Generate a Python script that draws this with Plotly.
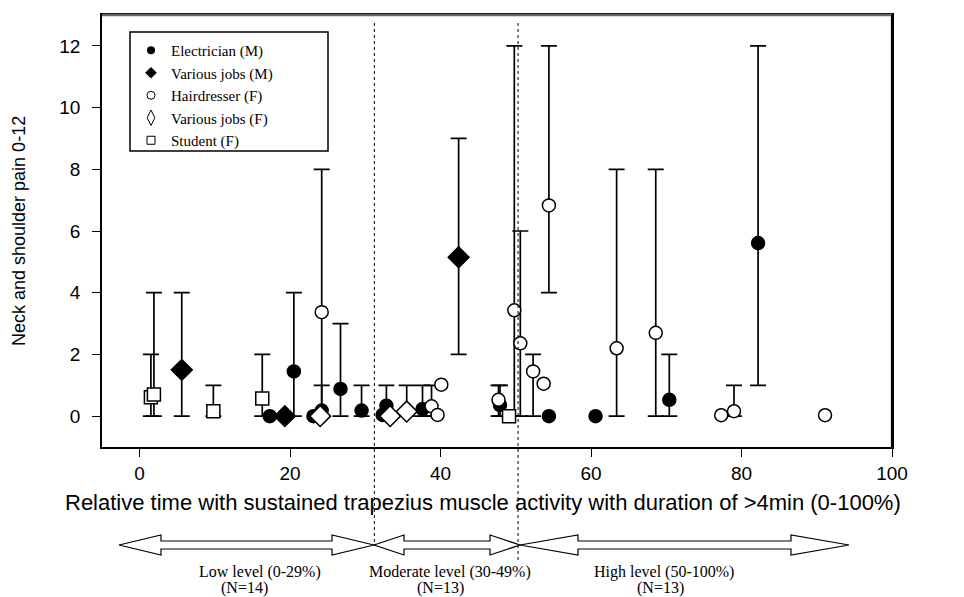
import plotly.graph_objects as go

# ---------------- data ----------------
# Electrician (M) - filled circles
elec_x = [17.3, 20.5, 23.1, 24.2, 26.7, 29.5, 32.3, 32.8, 37.6, 47.9, 54.4, 60.6, 70.4, 82.2]
elec_y = [0, 1.45, 0, 0.18, 0.88, 0.18, 0.04, 0.34, 0.23, 0.36, 0, 0, 0.53, 5.61]
elec_lo = [None, 0, None, 0, 0, 0, None, 0, 0, 0, None, None, 0, 1]
elec_hi = [None, 4, None, 1, 3, 1, None, 1, 1, 1, None, None, 2, 12]

# Various jobs (M) - filled diamonds
varm_x = [5.6, 19.3, 42.4]
varm_y = [1.5, 0, 5.15]
varm_lo = [0, None, 2]
varm_hi = [4, None, 9]

# Hairdresser (F) - open circles
hair_x = [24.2, 38.8, 39.6, 40.1, 47.7, 49.8, 50.6, 52.3, 53.7, 54.4, 63.4, 68.6, 77.3, 79.0, 91.1]
hair_y = [3.37, 0.32, 0.04, 1.02, 0.53, 3.43, 2.36, 1.45, 1.05, 6.83, 2.2, 2.70, 0.03, 0.16, 0.03]
hair_lo = [0, 0, None, None, 0, 0, 0, 0, None, 4, 0, 0, None, 0, None]
hair_hi = [8, 1, None, None, 1, 12, 6, 2, None, 12, 8, 8, None, 1, None]

# Various jobs (F) - open diamonds
varf_x = [24.0, 33.3, 35.5]
varf_y = [0, 0, 0.15]
varf_lo = [None, None, 0]
varf_hi = [None, None, 1]

# Student (F) - open squares
stud_x = [1.5, 1.9, 9.8, 16.3, 49.1]
stud_y = [0.61, 0.70, 0.16, 0.57, 0]
stud_lo = [0, 0, 0, 0, None]
stud_hi = [2, 4, 1, 2, None]

level_bounds = [31.2, 50.3]
x_ticks = [0, 20, 40, 60, 80, 100]
y_ticks = [0, 2, 4, 6, 8, 10, 12]

level_labels = ["Low level (0-29%)", "Moderate level (30-49%)", "High level (50-100%)"]
level_counts = ["(N=14)", "(N=13)", "(N=13)"]

# ---------------- geometry helpers ----------------
W, H = 964, 597
PL, PR, PT, PB = 102, 892, 15, 447


def pxx(px):
    return (px - PL) / (PR - PL)


def pxy(py):
    return (PB - py) / (PB - PT)


series = [
    ("Electrician (M)", elec_x, elec_y, elec_lo, elec_hi,
     dict(symbol="circle", size=13, color="black", line=dict(color="black", width=1.5)),
     dict(symbol="circle", size=8, color="black")),
    ("Various jobs (M)", varm_x, varm_y, varm_lo, varm_hi,
     dict(symbol="diamond", size=16, color="black", line=dict(color="black", width=1.5)),
     dict(symbol="diamond", size=9, color="black")),
    ("Hairdresser (F)", hair_x, hair_y, hair_lo, hair_hi,
     dict(symbol="circle", size=13, color="white", line=dict(color="black", width=1.5)),
     dict(symbol="circle", size=8, color="white", line=dict(color="black", width=1))),
    ("Various jobs (F)", varf_x, varf_y, varf_lo, varf_hi,
     dict(symbol="diamond", size=16, color="white", line=dict(color="black", width=1.5)),
     dict(symbol="diamond-tall", size=11, color="white", line=dict(color="black", width=1))),
    ("Student (F)", stud_x, stud_y, stud_lo, stud_hi,
     dict(symbol="square", size=13, color="white", line=dict(color="black", width=1.5)),
     dict(symbol="square", size=8, color="white", line=dict(color="black", width=1))),
]

fig = go.Figure()

# error bars first (drawn beneath all markers)
ex, ey, eup, edn = [], [], [], []
for _, xs, ys, los, his, _, _ in series:
    for x, y, lo, hi in zip(xs, ys, los, his):
        if lo is None:
            continue
        ex.append(x)
        ey.append(y)
        eup.append(hi - y)
        edn.append(y - lo)
fig.add_trace(go.Scatter(
    x=ex, y=ey, mode="markers", showlegend=False, hoverinfo="skip",
    marker=dict(size=2, opacity=0),
    error_y=dict(type="data", symmetric=False, array=eup, arrayminus=edn,
                 color="black", thickness=1.7, width=8),
))

for name, xs, ys, los, his, mk, _ in series:
    fig.add_trace(go.Scatter(x=xs, y=ys, mode="markers", name=name,
                             showlegend=False, marker=mk))

for name, xs, ys, los, his, _, lmk in series:
    fig.add_trace(go.Scatter(x=[None], y=[None], mode="markers", name=name,
                             showlegend=True, marker=lmk))

shapes = []
# dotted boundary lines
for b, yend in zip(level_bounds, [546, 562]):
    shapes.append(dict(type="line", xref="x", yref="paper", x0=b, x1=b,
                       y0=pxy(23), y1=pxy(yend),
                       line=dict(color="black", width=1, dash="dot")))

# top border in grey
shapes.append(dict(type="line", xref="paper", yref="paper", x0=0, x1=1, y0=1, y1=1,
                   line=dict(color="#666666", width=2.5)))
# right border heavier
shapes.append(dict(type="line", xref="paper", yref="paper", x0=1, x1=1, y0=0, y1=1,
                   line=dict(color="black", width=2.2)))
# legend frame
shapes.append(dict(type="rect", xref="paper", yref="paper",
                   x0=pxx(130), x1=pxx(328), y0=pxy(151), y1=pxy(32),
                   line=dict(color="black", width=1.5), fillcolor="rgba(0,0,0,0)"))


def double_arrow(x0, x1, yc, head, shaft=4, half=10):
    pts = [(x0, yc), (x0 + head, yc - half), (x0 + head, yc - shaft),
           (x1 - head, yc - shaft), (x1 - head, yc - half), (x1, yc),
           (x1 - head, yc + half), (x1 - head, yc + shaft),
           (x0 + head, yc + shaft), (x0 + head, yc + half)]
    d = "M " + " L ".join(f"{pxx(a):.5f},{pxy(b):.5f}" for a, b in pts) + " Z"
    return dict(type="path", xref="paper", yref="paper", path=d,
                fillcolor="white", line=dict(color="black", width=1.2))


arrow_px = [(119, 374, 42), (374, 520, 30), (520, 849, 58)]
for a0, a1, hd in arrow_px:
    shapes.append(double_arrow(a0, a1, 545, hd))

annotations = []
label_cx = [260, 450, 664]
count_cx = [244, 440, 660]
for lab, cnt, cx, nx in zip(level_labels, level_counts, label_cx, count_cx):
    annotations.append(dict(text=lab, xref="paper", yref="paper", x=pxx(cx), y=pxy(572),
                            xanchor="center", yanchor="middle", showarrow=False,
                            font=dict(family="Liberation Serif", size=16, color="black")))
    annotations.append(dict(text=cnt, xref="paper", yref="paper", x=pxx(nx), y=pxy(588),
                            xanchor="center", yanchor="middle", showarrow=False,
                            font=dict(family="Liberation Serif", size=16, color="black")))

annotations.append(dict(
    text="Relative time with sustained trapezius muscle activity with duration of >4min (0-100%)",
    xref="paper", yref="paper", x=pxx(483), y=pxy(503), xanchor="center", yanchor="middle",
    showarrow=False, font=dict(family="Liberation Sans", size=22, color="black")))
annotations.append(dict(
    text="Neck and shoulder pain 0-12", xref="paper", yref="paper", x=pxx(19), y=pxy(231),
    xanchor="center", yanchor="middle", textangle=-90, showarrow=False,
    font=dict(family="Liberation Sans", size=18, color="black")))

axis_common = dict(showgrid=False, zeroline=False, showline=True, linecolor="black",
                   linewidth=1.5, mirror=True, ticks="outside", ticklen=8, tickwidth=1.2,
                   tickcolor="black", tickfont=dict(family="Liberation Sans", size=19, color="black"))

fig.update_layout(
    width=W, height=H,
    margin=dict(l=PL, r=W - PR, t=PT, b=H - PB),
    paper_bgcolor="white", plot_bgcolor="white",
    xaxis=dict(range=[-5, 100], tickvals=x_ticks, ticklabelstandoff=0, **axis_common),
    yaxis=dict(range=[-1, 13], tickvals=y_ticks, ticklabelstandoff=8, **axis_common),
    legend=dict(x=pxx(131), y=pxy(34), xanchor="left", yanchor="top",
                bgcolor="rgba(0,0,0,0)", borderwidth=0,
                font=dict(family="Liberation Serif", size=15, color="black"),
                itemwidth=30, tracegroupgap=0),
    shapes=shapes,
    annotations=annotations,
    showlegend=True,
)

fig.write_html(
    "out.html",
    config={"displayModeBar": False},
    post_script="document.body.style.margin='0px';document.body.style.overflow='hidden';",
)
